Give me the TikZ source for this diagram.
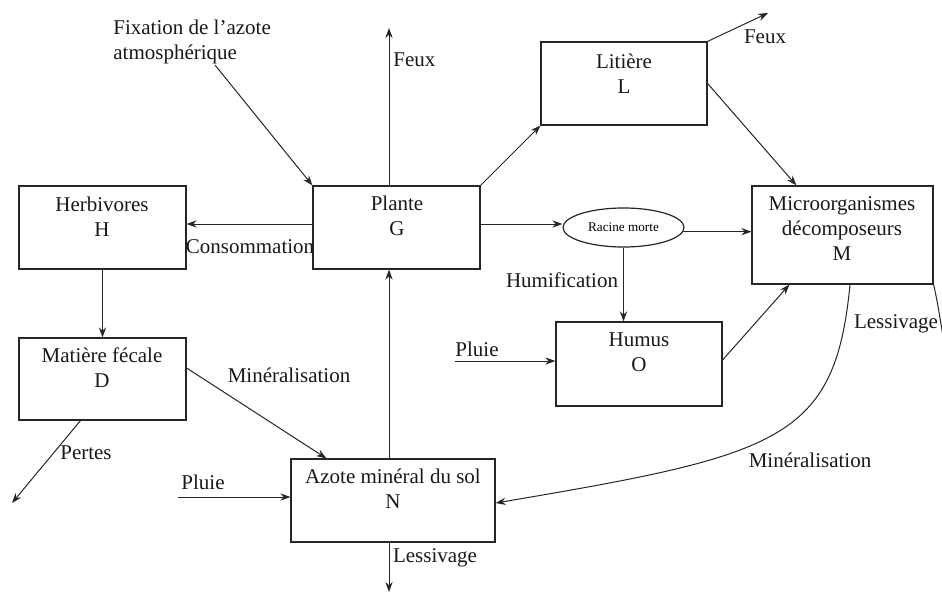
\documentclass[tikz,border=0pt]{standalone}
\usepackage{fontspec}
\setmainfont{Liberation Serif}
\usetikzlibrary{arrows.meta,shapes.geometric}
\begin{document}
\begin{tikzpicture}[x=0.5pt,y=-0.5pt,
  box/.style={draw=black!85, line width=0.6pt, inner sep=0pt},
  txt/.style={font=\fontsize{10.5}{12.5}\selectfont, align=center, inner sep=0pt, text=black!90},
  arr/.style={draw=black!85, line width=0.5pt, -{Stealth[length=5pt,width=3.6pt]}},
  ln/.style={draw=black!85, line width=0.5pt}]
\useasboundingbox (0,0) rectangle (942,594);
\fill[white] (0,0) rectangle (942,594);

% boxes
\node[box, minimum width=83pt, minimum height=41.5pt] (L) at (624,83.5) {};
\node[box, minimum width=83.5pt, minimum height=41.5pt] (G) at (396.5,227.5) {};
\node[box, minimum width=83.5pt, minimum height=41.5pt] (H) at (102.5,227.5) {};
\node[box, minimum width=90.5pt, minimum height=49pt] (M) at (842.5,235) {};
\node[box, minimum width=83pt, minimum height=42pt] (O) at (639,364) {};
\node[box, minimum width=83.5pt, minimum height=41pt] (D) at (102.5,379) {};
\node[box, minimum width=102pt, minimum height=41.5pt] (N) at (393,500.5) {};
\node[box, ellipse, minimum width=60.5pt, minimum height=19.5pt, font=\fontsize{6.6}{8}\selectfont] (R) at (623.5,227.5) {Racine morte};

% box texts
\node[txt] (Lt) at (624,74) {Litière\\L};
\node[txt] (Gt) at (397,215.5) {Plante\\G};
\node[txt] (Ht) at (102,216.5) {Herbivores\\H};
\node[txt] (Mt) at (842,228.5) {Microorganismes\\décomposeurs\\M};
\node[txt] (Ot) at (639,352.5) {Humus\\O};
\node[txt] (Dt) at (102,367.5) {Matière fécale\\D};
\node[txt] (Nt) at (393,488.5) {Azote minéral du sol\\N};

% free labels
\node[txt, align=left, anchor=west] (fix) at (113,41.5) {Fixation de l’azote\\atmosphérique};
\node[txt, anchor=west] (feuxG) at (393,60) {Feux};
\node[txt] (feuxL) at (765,37) {Feux};
\node[txt] (cons) at (250,247) {Consommation};
\node[txt] (humif) at (562,280) {Humification};
\node[txt] (pluieO) at (477,349) {Pluie};
\node[txt] (pertes) at (86,453) {Pertes};
\node[txt] (minL) at (289,375) {Minéralisation};
\node[txt] (pluieN) at (203,482) {Pluie};
\node[txt] (lessN) at (435,558) {Lessivage};
\node[txt] (minR) at (810,460) {Minéralisation};
\node[txt] (lessM) at (896,324) {Lessivage};

% free ends
\coordinate (fx) at (215,65);
\coordinate (fg) at (389,28);
\coordinate (fl) at (768,13);
\coordinate (po) at (455,361);
\coordinate (pt) at (12,503);
\coordinate (pn) at (178,497);
\coordinate (lb) at (389,592);
\coordinate (lr) at (944,342);

% connectors
\draw[arr] (fx) -- (G.north west);
\draw[arr] (fg |- G.north) -- (fg);
\draw[arr] (G.north east) -- (L.south west);
\draw[arr] (L.north east) -- (fl);
\draw[arr] (L.east) -- ([xshift=22.5pt]M.north west);
\draw[arr] ([yshift=1.75pt]G.west) -- ([yshift=1.75pt]H.east);
\draw[arr] ([yshift=1.75pt]G.east) -- ([yshift=1.75pt]R.west);
\draw[arr] (R.-4) -- (R.-4 -| M.west);
\draw[arr] (R.south) -- (R.south |- O.north);
\draw[arr] ([yshift=2pt]O.east) -- ([xshift=19pt]M.south west);
\draw[arr] (po) -- (po -| O.west);
\draw[arr] (H.south) -- (D.north);
\draw[arr] ([xshift=-11pt]D.south) -- (pt);
\draw[arr] ([yshift=5.5pt]D.east) -- ([xshift=18pt]N.north west);
\draw[arr] (pn) -- (pn -| N.west);
\draw[arr] (fg |- N.north) -- (fg |- G.south);
\draw[arr] (lb |- N.south) -- (lb);
\draw[arr] ([xshift=3.75pt]M.south) .. controls (835,440) and (780,455) .. ([yshift=-1.25pt]N.east);
\draw[ln] (M.south east) .. controls (937,300) .. (lr);
\end{tikzpicture}
\end{document}
